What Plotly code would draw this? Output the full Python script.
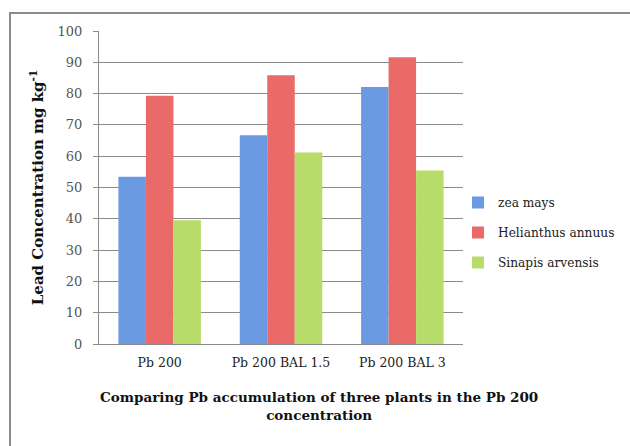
import plotly.graph_objects as go

categories = ["Pb 200", "Pb 200 BAL 1.5", "Pb 200 BAL 3"]
zea_mays = [53.4, 66.7, 82.1]
helianthus = [79.3, 85.9, 91.6]
sinapis = [39.5, 61.2, 55.4]
series_names = ["zea mays", "Helianthus annuus", "Sinapis arvensis"]
colors = ["#6b9ae2", "#ea6a6a", "#b8dc6a"]

FONT = "DejaVu Serif"
W, H = 630, 446
PL, PR, PT, PB = 99, 463, 31, 344  # plot area in reference pixels
L, R, T, B = PL, W - PR, PT, H - PB
pw, ph = W - L - R, H - T - B

def px_x(p):
    return (p - PL) / pw

def px_y(p):
    return (PB - p) / ph

fig = go.Figure()
for name, vals, c in zip(series_names, [zea_mays, helianthus, sinapis], colors):
    fig.add_trace(go.Bar(x=categories, y=vals, name=name, legendgroup=name,
                         marker=dict(color=c, line=dict(width=0))))

fig.update_layout(
    width=W, height=H,
    margin=dict(l=L, r=R, t=T, b=B, autoexpand=False),
    paper_bgcolor="white", plot_bgcolor="white",
    barmode="group", bargap=0.32, bargroupgap=0,
    font=dict(family=FONT, size=12, color="#444"),
    showlegend=True,
    legend=dict(x=px_x(458), y=px_y(188), xanchor="left", yanchor="top",
                traceorder="grouped", tracegroupgap=11,
                font=dict(family=FONT, size=12.2, color="#222"),
                itemwidth=30, bgcolor="rgba(0,0,0,0)"),
    xaxis=dict(showline=True, linecolor="#8a8a8a", linewidth=1, ticks="",
               ticklabelstandoff=7, automargin=False,
               tickfont=dict(family=FONT, size=12.5, color="#222")),
    yaxis=dict(range=[0, 100], dtick=10, showline=True, linecolor="#8a8a8a", linewidth=1,
               ticks="outside", ticklen=5, tickcolor="#8a8a8a", ticklabelstandoff=8,
               showgrid=True, gridcolor="#8a8a8a", gridwidth=1, zeroline=False,
               automargin=False,
               tickfont=dict(family=FONT, size=13, color="#555"),
               title=dict(text="<b>Lead Concentration mg kg<sup>-1</sup></b>",
                          font=dict(family=FONT, size=15, color="#111"), standoff=10)),
    annotations=[dict(text="<b>Comparing Pb accumulation of three plants in the Pb 200<br>concentration</b>",
                      xref="paper", yref="paper", x=px_x(319), y=px_y(406),
                      xanchor="center", yanchor="middle", showarrow=False,
                      font=dict(family=FONT, size=13.5, color="#111"))],
    shapes=[dict(type="rect", xref="paper", yref="paper",
                 x0=px_x(10), x1=px_x(680),
                 y0=px_y(500), y1=px_y(13),
                 line=dict(color="#8c8c8c", width=2), fillcolor="rgba(0,0,0,0)", layer="below")],
)

fig.write_html("out.html", config={"displayModeBar": False},
               post_script="document.body.style.margin='0';document.body.style.overflow='hidden';")
